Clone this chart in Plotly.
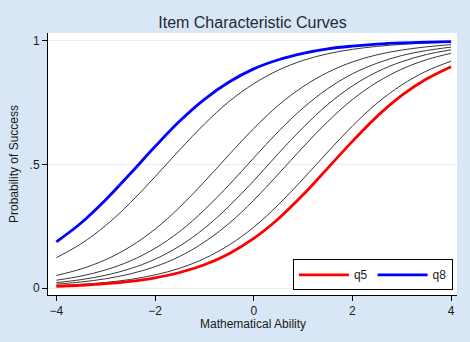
import plotly.graph_objects as go

theta = [-4, -3.5, -3, -2.5, -2, -1.5, -1, -0.5, 0, 0.5, 1, 1.5, 2, 2.5, 3, 3.5, 4]

q8 = [0.187, 0.263, 0.357, 0.463, 0.572, 0.675, 0.763, 0.833, 0.886, 0.923, 0.949, 0.967, 0.978, 0.986, 0.991, 0.994, 0.996]
qa = [0.123, 0.179, 0.253, 0.345, 0.450, 0.559, 0.663, 0.754, 0.826, 0.881, 0.920, 0.947, 0.965, 0.977, 0.985, 0.990, 0.994]
qb = [0.0511, 0.0772, 0.1149, 0.1677, 0.2383, 0.327, 0.430, 0.539, 0.645, 0.739, 0.814, 0.872, 0.914, 0.943, 0.962, 0.975, 0.984]
qc = [0.0318, 0.0486, 0.0735, 0.1097, 0.1606, 0.229, 0.316, 0.417, 0.526, 0.633, 0.728, 0.806, 0.866, 0.909, 0.940, 0.960, 0.974]
qd = [0.0222, 0.0341, 0.0520, 0.0784, 0.1167, 0.1702, 0.2416, 0.331, 0.434, 0.544, 0.649, 0.742, 0.817, 0.874, 0.915, 0.944, 0.963]
qe = [0.0160, 0.0246, 0.0377, 0.0574, 0.0864, 0.128, 0.186, 0.2615, 0.355, 0.461, 0.570, 0.673, 0.762, 0.832, 0.885, 0.923, 0.949]
qf = [0.0096, 0.0148, 0.0228, 0.0349, 0.0533, 0.0803, 0.1194, 0.174, 0.246, 0.337, 0.441, 0.550, 0.655, 0.747, 0.821, 0.877, 0.917]
q5 = [0.0074, 0.0114, 0.0176, 0.0271, 0.0414, 0.0629, 0.0943, 0.139, 0.2007, 0.2805, 0.377, 0.485, 0.593, 0.694, 0.779, 0.845, 0.895]

black_items = [qa, qb, qc, qd, qe, qf]

y_ticks = [0, 0.5, 1]
y_ticklabels = ["0", ".5", "1"]
x_ticks = [-4, -2, 0, 2, 4]

FONT = "Liberation Sans, Arial, sans-serif"
fig = go.Figure()

for ys in black_items:
    fig.add_trace(go.Scatter(x=theta, y=ys, mode="lines", showlegend=False,
                             line=dict(color="#383838", width=1, shape="spline", smoothing=1.0),
                             hoverinfo="skip"))

fig.add_trace(go.Scatter(x=theta, y=q5, mode="lines", name="q5",
                         line=dict(color="#ff0000", width=2.8, shape="spline", smoothing=1.0)))
fig.add_trace(go.Scatter(x=theta, y=q8, mode="lines", name="q8",
                         line=dict(color="#0000ff", width=2.8, shape="spline", smoothing=1.0)))

fig.update_layout(
    width=470, height=342,
    margin=dict(l=48, r=13, t=33, b=47),
    paper_bgcolor="#d9e6f5",
    plot_bgcolor="#ffffff",
    font=dict(family=FONT, size=12, color="#1a1a1a"),
    title=dict(text="Item Characteristic Curves", x=0.5, xref="paper", xanchor="center",
               y=1 - 22 / 342, yref="container", yanchor="middle",
               font=dict(size=16, color="#1e2a38")),
    xaxis=dict(range=[-4.17, 4.12], tickvals=x_ticks, showgrid=False, zeroline=False,
               showline=True, linecolor="#000000", linewidth=1,
               ticks="outside", ticklen=5, tickcolor="#000000", tickfont=dict(size=12)),
    yaxis=dict(range=[-0.028, 1.031], tickvals=y_ticks, ticktext=y_ticklabels,
               showgrid=True, gridcolor="#e8eff2", gridwidth=1, zeroline=False,
               showline=True, linecolor="#000000", linewidth=1,
               ticks="outside", ticklen=5, tickcolor="#000000", tickfont=dict(size=12),
               title=dict(text="Probability of Success", font=dict(size=12), standoff=8)),
    legend=dict(orientation="h", x=0.99, xanchor="right", y=0.018, yanchor="bottom",
                bgcolor="#ffffff", bordercolor="#000000", borderwidth=1,
                font=dict(size=12), itemwidth=50, tracegroupgap=0),
    annotations=[dict(text="Mathematical Ability", xref="paper", yref="paper",
                      x=0.5, y=-(324 - 295) / 262, xanchor="center", yanchor="middle",
                      showarrow=False, font=dict(size=12, color="#1a1a1a"))],
)

fig.write_html("out.html")
